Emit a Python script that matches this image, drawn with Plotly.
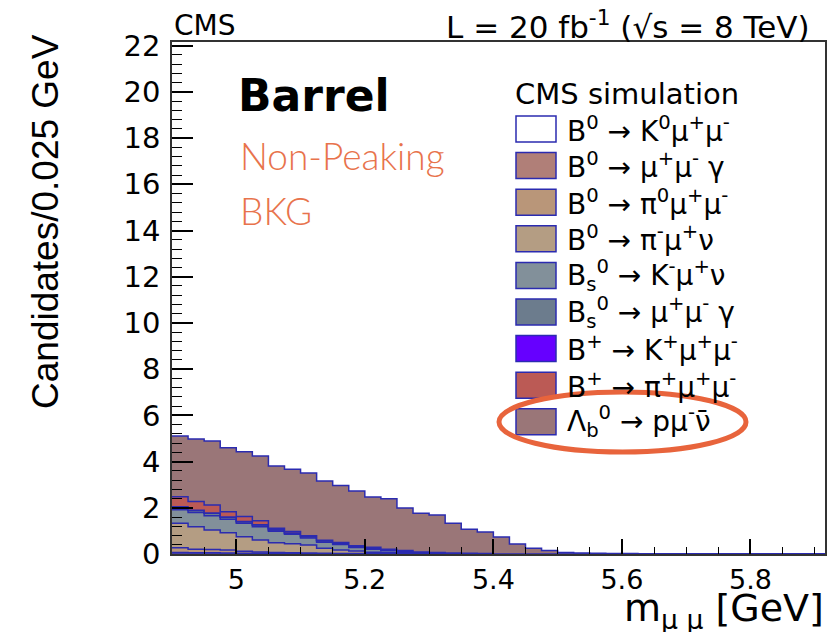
import numpy as np
import plotly.graph_objects as go

# histogram binning (0.025 GeV bins starting at 4.9 GeV)
bin_lo = 4.9
bin_w = 0.025
n_bins = 41

# bin contents per channel, bottom of the stack first
b0_k0mumu = [0.0] * 41
b0_mumugamma = [0.06, 0.05, 0.05, 0.04, 0.03, 0.03, 0.02, 0.02, 0.01, 0.01, 0.01, 0, 0, 0, 0, 0, 0, 0, 0, 0,
                0, 0, 0, 0, 0, 0, 0, 0, 0, 0, 0, 0, 0, 0, 0, 0, 0, 0, 0, 0, 0]
b0_pi0mumu = [0.21, 0.16, 0.14, 0.13, 0.09, 0.06, 0.05, 0.03, 0.03, 0.02, 0.01, 0.02, 0.01, 0.01, 0, 0, 0, 0, 0, 0,
              0, 0, 0, 0, 0, 0, 0, 0, 0, 0, 0, 0, 0, 0, 0, 0, 0, 0, 0, 0, 0]
b0_pimunu = [1.06, 0.97, 0.85, 0.75, 0.63, 0.52, 0.42, 0.39, 0.35, 0.22, 0.15, 0.11, 0.07, 0.04, 0.03, 0.02, 0.01, 0, 0, 0,
             0, 0, 0, 0, 0, 0, 0, 0, 0, 0, 0, 0, 0, 0, 0, 0, 0, 0, 0, 0, 0]
bs_kmunu = [0.58, 0.62, 0.62, 0.58, 0.58, 0.57, 0.49, 0.41, 0.30, 0.26, 0.24, 0.15, 0.13, 0.09, 0.05, 0.03, 0.02, 0.02, 0.01, 0,
            0, 0, 0, 0, 0, 0, 0, 0, 0, 0, 0, 0, 0, 0, 0, 0, 0, 0, 0, 0, 0]
bs_mumugamma = [0.12, 0.08, 0.10, 0.09, 0.07, 0.08, 0.06, 0.05, 0.06, 0.05, 0.05, 0.04, 0.04, 0.03, 0.03, 0.02, 0.01, 0.01, 0.01, 0.01,
                0, 0, 0, 0, 0, 0, 0, 0, 0, 0, 0, 0, 0, 0, 0, 0, 0, 0, 0, 0, 0]
bp_kmumu = [0.01, 0.01, 0.01, 0.01, 0.01, 0.01, 0.01, 0.01, 0.01, 0.02, 0.02, 0.03, 0.03, 0.03, 0.03, 0.02, 0.02, 0.01, 0.01, 0.01,
            0, 0, 0, 0, 0, 0, 0, 0, 0, 0, 0, 0, 0, 0, 0, 0, 0, 0, 0, 0, 0]
bp_pimumu = [0.44, 0.38, 0.35, 0.23, 0.21, 0.17, 0.06, 0.06, 0.03, 0.02, 0.02, 0.01, 0.01, 0.01, 0.01, 0, 0, 0, 0, 0,
             0, 0, 0, 0, 0, 0, 0, 0, 0, 0, 0, 0, 0, 0, 0, 0, 0, 0, 0, 0, 0]
lb_pmunu = [2.63, 2.71, 2.77, 2.77, 2.81, 2.80, 2.70, 2.70, 2.72, 2.56, 2.47, 2.37, 2.18, 2.18, 1.84, 1.67, 1.63, 1.29, 1.04, 0.93,
            0.74, 0.43, 0.25, 0.15, 0.07, 0.04, 0.03, 0.02, 0.02, 0.01, 0, 0, 0, 0, 0, 0, 0, 0, 0, 0, 0]

channels = [b0_k0mumu, b0_mumugamma, b0_pi0mumu, b0_pimunu, bs_kmunu,
            bs_mumugamma, bp_kmumu, bp_pimumu, lb_pmunu]
labels = [
    "B<sup>0</sup> → K<sup>0</sup>μ<sup>+</sup>μ<sup>-</sup>",
    "B<sup>0</sup> → μ<sup>+</sup>μ<sup>-</sup> γ",
    "B<sup>0</sup> → π<sup>0</sup>μ<sup>+</sup>μ<sup>-</sup>",
    "B<sup>0</sup> → π<sup>-</sup>μ<sup>+</sup>ν",
    "B<sub>s</sub><sup>0</sup> → K<sup>-</sup>μ<sup>+</sup>ν",
    "B<sub>s</sub><sup>0</sup> → μ<sup>+</sup>μ<sup>-</sup> γ",
    "B<sup>+</sup> → K<sup>+</sup>μ<sup>+</sup>μ<sup>-</sup>",
    "B<sup>+</sup> → π<sup>+</sup>μ<sup>+</sup>μ<sup>-</sup>",
    "Λ<sub>b</sub><sup>0</sup> → pμ<sup>-</sup>ν̄",
]
colors = ["#ffffff", "#b07f78", "#b99679", "#b49d83", "#82909a",
          "#6c7c8d", "#6600ff", "#bb5a55", "#9a7678"]

edge_col = "#2b2bb0"
FONT = "DejaVu Sans"

edges = bin_lo + bin_w * np.arange(n_bins + 1)
stack = np.cumsum(np.array(channels, dtype=float), axis=0)

fig = go.Figure()
for i, (lev, col) in enumerate(zip(stack, colors)):
    fig.add_trace(go.Scatter(
        x=edges, y=np.append(lev, lev[-1]),
        mode="lines", line=dict(shape="hv", color=edge_col, width=1.5),
        fill="tozeroy" if i == 0 else "tonexty", fillcolor=col,
        showlegend=False, hoverinfo="skip"))

# pixel helpers for decorations (plot area 172..825 x 42..554 on screen)
def px(x):
    return (x - 172) / 653

def py(y):
    return (554 - y) / 512

shapes = []
annotations = []

# legend block
annotations.append(dict(x=px(513), y=py(94), xref="paper", yref="paper", xanchor="left", yanchor="middle",
                        text="CMS simulation", showarrow=False, font=dict(family=FONT, size=29, color="black")))
for k, (lab, col) in enumerate(zip(labels, colors)):
    yc = 129 + 36.6 * k
    shapes.append(dict(type="rect", xref="paper", yref="paper", x0=px(516), x1=px(556),
                       y0=py(yc + 13), y1=py(yc - 13), fillcolor=col,
                       line=dict(color=edge_col, width=1.5)))
    annotations.append(dict(x=px(565), y=py(yc), xref="paper", yref="paper", xanchor="left", yanchor="middle",
                            text=lab, showarrow=False, font=dict(family=FONT, size=28, color="black")))

# orange ellipse around the Lambda_b entry
shapes.append(dict(type="circle", xref="paper", yref="paper", x0=px(499), x1=px(746),
                   y0=py(452), y1=py(392), line=dict(color="#e8643c", width=5)))

# header texts
annotations += [
    dict(x=px(172), y=py(25), xref="paper", yref="paper", xanchor="left", yanchor="middle",
         text="CMS", showarrow=False, font=dict(family=FONT, size=28, color="black")),
    dict(x=px(812), y=py(25), xref="paper", yref="paper", xanchor="right", yanchor="middle",
         text="L = 20 fb<sup>-1</sup> (√s = 8 TeV)", showarrow=False,
         font=dict(family=FONT, size=31, color="black")),
    dict(x=px(236), y=py(95), xref="paper", yref="paper", xanchor="left", yanchor="middle",
         text="<b>Barrel</b>", showarrow=False, font=dict(family=FONT, size=44, color="black")),
    dict(x=px(238), y=py(155), xref="paper", yref="paper", xanchor="left", yanchor="middle",
         text="Non-Peaking", showarrow=False,
         font=dict(family="Lato", size=37, color="#e8734c", weight=300)),
    dict(x=px(238), y=py(210), xref="paper", yref="paper", xanchor="left", yanchor="middle",
         text="BKG", showarrow=False,
         font=dict(family="Lato", size=37, color="#e8734c", weight=300)),
    dict(x=px(45), y=py(222), xref="paper", yref="paper", xanchor="center", yanchor="middle",
         text="Candidates/0.025 GeV", textangle=-90, showarrow=False,
         font=dict(family="Liberation Sans", size=37, color="black")),
    dict(x=px(826), y=py(610), xref="paper", yref="paper", xanchor="right", yanchor="middle",
         text="m<sub>μ μ</sub> [GeV]", showarrow=False, font=dict(family=FONT, size=38, color="black")),
]

axis_common = dict(showgrid=False, zeroline=False, showline=True, linecolor="#333333", linewidth=1.5,
                   mirror=True, ticks="inside", tickcolor="black", tickwidth=1.5, layer="above traces",
                   automargin=False)

# the page body adds an 8px offset, so the figure is sized 8px smaller
fig.update_layout(
    width=829, height=624,
    margin=dict(l=164, r=12, t=34, b=78, autoexpand=False),
    paper_bgcolor="white", plot_bgcolor="white",
    xaxis=dict(range=[4.9, 5.916], tickvals=[5.0, 5.2, 5.4, 5.6, 5.8], ticktext=["5", "5.2", "5.4", "5.6", "5.8"],
               ticklen=15, ticklabelstandoff=1, tickfont=dict(family=FONT, size=27, color="black"),
               minor=dict(dtick=0.05, tick0=4.9, ticks="inside", ticklen=7, tickcolor="black", tickwidth=1.2),
               **axis_common),
    yaxis=dict(range=[0, 22.16], dtick=2, ticklen=21, ticklabelstandoff=4,
               tickfont=dict(family=FONT, size=29, color="black"),
               minor=dict(dtick=0.4, tick0=0, ticks="inside", ticklen=10, tickcolor="black", tickwidth=1.2),
               **axis_common),
    shapes=shapes,
    annotations=annotations,
    hovermode=False,
)

fig.write_html("out.html")
